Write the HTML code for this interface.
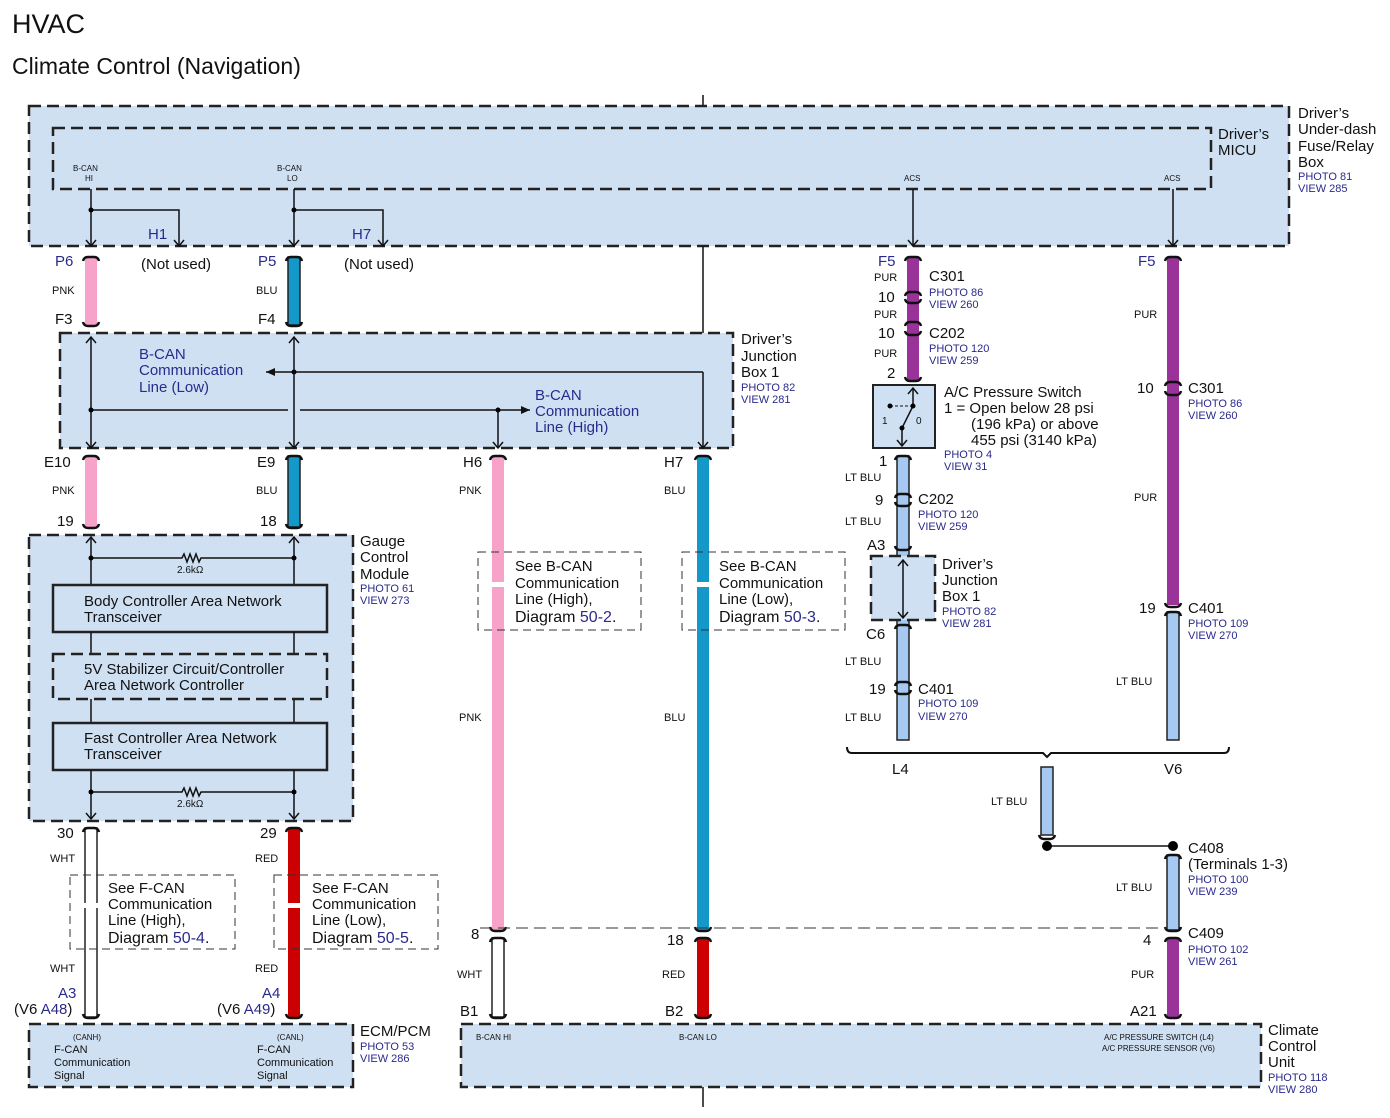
<!DOCTYPE html>
<html><head><meta charset="utf-8"><style>
html,body{margin:0;padding:0;background:#fff}
svg{display:block}
text{font-family:"Liberation Sans",sans-serif;fill:#111}
.b{fill:#2a2a8c}
.s{font-size:11px}
.m{font-size:15px}
.xs{font-size:8px}
.box{fill:#cfe0f3;stroke:#222;stroke-width:2.5;stroke-dasharray:12 6}
.ibox{fill:none;stroke:#222;stroke-width:2.5;stroke-dasharray:12 6}
.sbox{fill:#cfe0f3;stroke:#222;stroke-width:2.5}
.note{fill:none;stroke:#333;stroke-width:1;stroke-dasharray:8 5}
.ln{stroke:#111;stroke-width:1.5;fill:none}
.w{stroke:#222;stroke-width:1.5}
.cap{stroke:#111;stroke-width:2.5;fill:none}
</style></head><body>
<svg width="1390" height="1118" viewBox="0 0 1390 1118" xmlns="http://www.w3.org/2000/svg">
<defs>
<marker id="ar" markerWidth="12" markerHeight="14" refX="10" refY="6" orient="auto-start-reverse" markerUnits="userSpaceOnUse">
<path d="M4 1 L10 6 L4 11" fill="none" stroke="#111" stroke-width="1.5"/></marker>
<marker id="af" markerWidth="10" markerHeight="10" refX="9" refY="5" orient="auto" markerUnits="userSpaceOnUse">
<path d="M0 1 L9 5 L0 9z" fill="#111"/></marker>
</defs>
<text x="12" y="33" style="font-size:27px">HVAC</text>
<text x="12" y="74" style="font-size:23px">Climate Control (Navigation)</text>

<!-- top box -->
<line x1="703" y1="95" x2="703" y2="106" class="ln"/>
<rect x="29" y="106" width="1260" height="140" class="box"/>
<rect x="53" y="128" width="1158" height="61" class="ibox"/>
<text x="1298" y="118" class="m">Driver’s</text>
<text x="1298" y="134" class="m">Under-dash</text>
<text x="1298" y="151" class="m">Fuse/Relay</text>
<text x="1298" y="167" class="m">Box</text>
<text x="1298" y="180" class="s b">PHOTO 81</text>
<text x="1298" y="192" class="s b">VIEW 285</text>
<text x="1218" y="139" class="m">Driver’s</text>
<text x="1218" y="155" class="m">MICU</text>
<text x="73" y="171" class="xs">B-CAN</text><text x="85" y="181" class="xs">HI</text>
<text x="277" y="171" class="xs">B-CAN</text><text x="287" y="181" class="xs">LO</text>
<text x="904" y="181" class="xs">ACS</text><text x="1164" y="181" class="xs">ACS</text>
<path d="M91 189 V246" class="ln" marker-end="url(#ar)"/>
<path d="M91 210 H179 V246" class="ln" marker-end="url(#ar)"/>
<circle cx="91" cy="210" r="2.5"/>
<path d="M294 189 V246" class="ln" marker-end="url(#ar)"/>
<path d="M294 210 H383 V246" class="ln" marker-end="url(#ar)"/>
<circle cx="294" cy="210" r="2.5"/>
<path d="M913 189 V246" class="ln" marker-end="url(#ar)"/>
<path d="M1173 189 V246" class="ln" marker-end="url(#ar)"/>
<text x="148" y="239" class="m b">H1</text><text x="352" y="239" class="m b">H7</text>
<text x="141" y="269" class="m">(Not used)</text><text x="344" y="269" class="m">(Not used)</text>
<line x1="703" y1="246" x2="703" y2="333" class="ln"/>

<!-- wires -->
<rect x="85" y="257" width="12" height="68" fill="#f7a3c9"/>
<rect x="288" y="257" width="12" height="68" fill="#1497c9" class="w"/>
<rect x="85" y="456" width="12" height="71" fill="#f7a3c9"/>
<rect x="288" y="456" width="12" height="71" fill="#1497c9" class="w"/>
<rect x="492" y="456" width="12" height="474" fill="#f7a3c9"/>
<rect x="697" y="456" width="12" height="474" fill="#1497c9"/>
<rect x="85" y="828" width="12" height="189" fill="#fff" class="w"/>
<rect x="288" y="828" width="12" height="189" fill="#cc0000"/>
<rect x="492" y="938" width="12" height="79" fill="#fff" class="w"/>
<rect x="697" y="938" width="12" height="79" fill="#cc0000"/>
<rect x="907" y="257" width="12" height="123" fill="#993399"/>
<rect x="897" y="456" width="12" height="284" fill="#a6c9f1" class="w"/>
<rect x="1167" y="257" width="12" height="348" fill="#993399"/>
<rect x="1167" y="612" width="12" height="128" fill="#a6c9f1" class="w"/>
<rect x="1041" y="767" width="12" height="68" fill="#a6c9f1" class="w"/>
<rect x="1167" y="855" width="12" height="75" fill="#a6c9f1" class="w"/>
<rect x="1167" y="938" width="12" height="79" fill="#993399"/>

<!-- caps -->
<g class="cap">
<path d="M83 261 Q84 257 88 257 H94 Q98 257 99 261 M83 322 Q84 326 88 326 H94 Q98 326 99 322"/>
<path d="M286 261 Q287 257 291 257 H297 Q301 257 302 261 M286 322 Q287 326 291 326 H297 Q301 326 302 322"/>
<path d="M83 460 Q84 456 88 456 H94 Q98 456 99 460 M83 524 Q84 528 88 528 H94 Q98 528 99 524"/>
<path d="M286 460 Q287 456 291 456 H297 Q301 456 302 460 M286 524 Q287 528 291 528 H297 Q301 528 302 524"/>
<path d="M490 460 Q491 456 495 456 H501 Q505 456 506 460 M490 927 Q491 931 495 931 H501 Q505 931 506 927"/>
<path d="M695 460 Q696 456 700 456 H706 Q710 456 711 460 M695 927 Q696 931 700 931 H706 Q710 931 711 927"/>
<path d="M83 832 Q84 828 88 828 H94 Q98 828 99 832 M83 1014 Q84 1018 88 1018 H94 Q98 1018 99 1014"/>
<path d="M286 832 Q287 828 291 828 H297 Q301 828 302 832 M286 1014 Q287 1018 291 1018 H297 Q301 1018 302 1014"/>
<path d="M490 942 Q491 938 495 938 H501 Q505 938 506 942 M490 1014 Q491 1018 495 1018 H501 Q505 1018 506 1014"/>
<path d="M695 942 Q696 938 700 938 H706 Q710 938 711 942 M695 1014 Q696 1018 700 1018 H706 Q710 1018 711 1014"/>
<path d="M905 261 Q906 257 910 257 H916 Q920 257 921 261"/>
<path d="M905 296 Q906 292 910 292 H916 Q920 292 921 296 M905 299 Q906 303 910 303 H916 Q920 303 921 299"/>
<path d="M905 326 Q906 322 910 322 H916 Q920 322 921 326 M905 331 Q906 335 910 335 H916 Q920 335 921 331"/>
<path d="M905 377 Q906 381 910 381 H916 Q920 381 921 377"/>
<path d="M895 460 Q896 456 900 456 H906 Q910 456 911 460"/>
<path d="M895 498 Q896 494 900 494 H906 Q910 494 911 498 M895 502 Q896 506 900 506 H906 Q910 506 911 502"/>
<path d="M895 546 Q896 550 900 550 H906 Q910 550 911 546 M895 629 Q896 625 900 625 H906 Q910 625 911 629"/>
<path d="M895 686 Q896 682 900 682 H906 Q910 682 911 686 M895 690 Q896 694 900 694 H906 Q910 694 911 690"/>
<path d="M1165 261 Q1166 257 1170 257 H1176 Q1180 257 1181 261"/>
<path d="M1165 386 Q1166 382 1170 382 H1176 Q1180 382 1181 386 M1165 391 Q1166 395 1170 395 H1176 Q1180 395 1181 391"/>
<path d="M1165 603 Q1166 607 1170 607 H1176 Q1180 607 1181 603 M1165 616 Q1166 612 1170 612 H1176 Q1180 612 1181 616"/>
<path d="M1039 835 Q1040 839 1044 839 H1050 Q1054 839 1055 835"/>
<path d="M1165 859 Q1166 855 1170 855 H1176 Q1180 855 1181 859"/>
<path d="M1165 927 Q1166 931 1170 931 H1176 Q1180 931 1181 927 M1165 942 Q1166 938 1170 938 H1176 Q1180 938 1181 942"/>
<path d="M1165 1014 Q1166 1018 1170 1018 H1176 Q1180 1018 1181 1014"/>
</g>
<text x="55" y="266" class="m b">P6</text><text x="258" y="266" class="m b">P5</text>
<text x="52" y="294" class="s">PNK</text><text x="256" y="294" class="s">BLU</text>
<text x="55" y="324" class="m">F3</text><text x="258" y="324" class="m">F4</text>

<!-- junction box -->
<rect x="60" y="333" width="673" height="115" class="box"/>
<text x="741" y="344" class="m">Driver’s</text>
<text x="741" y="361" class="m">Junction</text>
<text x="741" y="377" class="m">Box 1</text>
<text x="741" y="391" class="s b">PHOTO 82</text>
<text x="741" y="403" class="s b">VIEW 281</text>
<path d="M91 337 V448" class="ln" marker-start="url(#ar)" marker-end="url(#ar)"/>
<path d="M703 372 V448" class="ln" marker-end="url(#ar)"/>
<path d="M703 372 H266" class="ln" marker-end="url(#af)"/>
<circle cx="294" cy="372" r="2.5"/>
<path d="M91 410 H530" class="ln" marker-end="url(#af)"/>
<circle cx="91" cy="410" r="2.5"/>
<path d="M498 410 V448" class="ln" marker-end="url(#ar)"/><circle cx="498" cy="410" r="2.5"/>
<rect x="288" y="405" width="12" height="10" fill="#cfe0f3"/>
<path d="M294 337 V448" class="ln" marker-start="url(#ar)" marker-end="url(#ar)"/>
<text x="139" y="359" class="m b">B-CAN</text>
<text x="139" y="375" class="m b">Communication</text>
<text x="139" y="392" class="m b">Line (Low)</text>
<text x="535" y="400" class="m b">B-CAN</text>
<text x="535" y="416" class="m b">Communication</text>
<text x="535" y="432" class="m b">Line (High)</text>

<text x="44" y="467" class="m">E10</text><text x="257" y="467" class="m">E9</text>
<text x="463" y="467" class="m">H6</text><text x="664" y="467" class="m">H7</text>
<text x="52" y="494" class="s">PNK</text><text x="256" y="494" class="s">BLU</text>
<text x="459" y="494" class="s">PNK</text><text x="664" y="494" class="s">BLU</text>
<text x="57" y="526" class="m">19</text><text x="260" y="526" class="m">18</text>

<!-- gauge -->
<rect x="29" y="535" width="324" height="286" class="box"/>
<text x="360" y="546" class="m">Gauge</text>
<text x="360" y="562" class="m">Control</text>
<text x="360" y="579" class="m">Module</text>
<text x="360" y="592" class="s b">PHOTO 61</text>
<text x="360" y="604" class="s b">VIEW 273</text>
<path d="M91 585 V537" class="ln" marker-end="url(#ar)"/>
<path d="M294 585 V537" class="ln" marker-end="url(#ar)"/>
<path d="M91 558 H182 l2 -4 l3 8 l3 -8 l3 8 l3 -8 l3 8 l2 -4 H294" class="ln"/>
<circle cx="91" cy="558" r="2.5"/><circle cx="294" cy="558" r="2.5"/>
<text x="177" y="573" style="font-size:10px">2.6kΩ</text>
<rect x="53" y="585" width="274" height="47" class="sbox"/>
<text x="84" y="606" class="m">Body Controller Area Network</text>
<text x="84" y="622" class="m">Transceiver</text>
<path d="M91 632 V654 M294 632 V654 M91 699 V723 M294 699 V723" class="ln"/>
<rect x="53" y="654" width="274" height="45" class="ibox"/>
<text x="84" y="674" class="m">5V Stabilizer Circuit/Controller</text>
<text x="84" y="690" class="m">Area Network Controller</text>
<rect x="53" y="723" width="274" height="47" class="sbox"/>
<text x="84" y="743" class="m">Fast Controller Area Network</text>
<text x="84" y="759" class="m">Transceiver</text>
<path d="M91 770 V819" class="ln" marker-end="url(#ar)"/>
<path d="M294 770 V819" class="ln" marker-end="url(#ar)"/>
<path d="M91 792 H182 l2 -4 l3 8 l3 -8 l3 8 l3 -8 l3 8 l2 -4 H294" class="ln"/>
<circle cx="91" cy="792" r="2.5"/><circle cx="294" cy="792" r="2.5"/>
<text x="177" y="807" style="font-size:10px">2.6kΩ</text>

<text x="57" y="838" class="m">30</text><text x="260" y="838" class="m">29</text>
<text x="50" y="862" class="s">WHT</text><text x="255" y="862" class="s">RED</text>

<!-- notes -->
<rect x="70" y="875" width="165" height="74" class="note"/>
<rect x="84" y="903" width="14" height="5" fill="#fff"/>
<text x="108" y="893" class="m">See F-CAN</text><text x="108" y="909" class="m">Communication</text>
<text x="108" y="925" class="m">Line (High),</text><text x="108" y="943" style="font-size:16px">Diagram <tspan class="b">50-4</tspan>.</text>
<rect x="274" y="875" width="164" height="74" class="note"/>
<rect x="288" y="903" width="12" height="5" fill="#fff"/>
<text x="312" y="893" class="m">See F-CAN</text><text x="312" y="909" class="m">Communication</text>
<text x="312" y="925" class="m">Line (Low),</text><text x="312" y="943" style="font-size:16px">Diagram <tspan class="b">50-5</tspan>.</text>
<rect x="478" y="552" width="163" height="78" class="note"/>
<rect x="492" y="582" width="12" height="5" fill="#fff"/>
<text x="515" y="571" class="m">See B-CAN</text><text x="515" y="588" class="m">Communication</text>
<text x="515" y="604" class="m">Line (High),</text><text x="515" y="622" style="font-size:16px">Diagram <tspan class="b">50-2</tspan>.</text>
<rect x="682" y="552" width="163" height="78" class="note"/>
<rect x="697" y="582" width="12" height="5" fill="#fff"/>
<text x="719" y="571" class="m">See B-CAN</text><text x="719" y="588" class="m">Communication</text>
<text x="719" y="604" class="m">Line (Low),</text><text x="719" y="622" style="font-size:16px">Diagram <tspan class="b">50-3</tspan>.</text>

<text x="459" y="721" class="s">PNK</text><text x="664" y="721" class="s">BLU</text>

<text x="50" y="972" class="s">WHT</text><text x="255" y="972" class="s">RED</text>
<text x="58" y="998" class="m b">A3</text><text x="262" y="998" class="m b">A4</text>
<text x="14" y="1014" class="m">(V6 <tspan class="b">A48</tspan>)</text>
<text x="217" y="1014" class="m">(V6 <tspan class="b">A49</tspan>)</text>

<!-- ECM -->
<rect x="29" y="1024" width="324" height="63" class="box"/>
<text x="73" y="1040" class="xs">(CANH)</text><text x="277" y="1040" class="xs">(CANL)</text>
<text x="54" y="1053" class="s">F-CAN</text><text x="54" y="1066" class="s">Communication</text><text x="54" y="1079" class="s">Signal</text>
<text x="257" y="1053" class="s">F-CAN</text><text x="257" y="1066" class="s">Communication</text><text x="257" y="1079" class="s">Signal</text>
<text x="360" y="1036" class="m">ECM/PCM</text>
<text x="360" y="1050" class="s b">PHOTO 53</text>
<text x="360" y="1062" class="s b">VIEW 286</text>

<!-- bottom dashed -->
<path d="M480 928 H1167" stroke="#333" stroke-width="1" stroke-dasharray="12 6"/>
<text x="471" y="939" class="m">8</text><text x="667" y="945" class="m">18</text>
<text x="457" y="978" class="s">WHT</text><text x="662" y="978" class="s">RED</text>
<text x="460" y="1016" class="m">B1</text><text x="665" y="1016" class="m">B2</text>
<rect x="461" y="1024" width="800" height="63" class="box"/>
<line x1="703" y1="1087" x2="703" y2="1107" class="ln"/>
<text x="476" y="1040" class="xs">B-CAN HI</text><text x="679" y="1040" class="xs">B-CAN LO</text>
<text x="1104" y="1040" class="xs">A/C PRESSURE SWITCH (L4)</text>
<text x="1102" y="1051" class="xs">A/C PRESSURE SENSOR (V6)</text>
<text x="1268" y="1035" class="m">Climate</text>
<text x="1268" y="1051" class="m">Control</text>
<text x="1268" y="1067" class="m">Unit</text>
<text x="1268" y="1081" class="s b">PHOTO 118</text>
<text x="1268" y="1093" class="s b">VIEW 280</text>

<!-- right L4 -->
<text x="878" y="266" class="m b">F5</text>
<text x="874" y="281" class="s">PUR</text>
<text x="929" y="281" class="m">C301</text>
<text x="929" y="296" class="s b">PHOTO 86</text><text x="929" y="308" class="s b">VIEW 260</text>
<text x="878" y="302" class="m">10</text>
<text x="874" y="318" class="s">PUR</text>
<text x="878" y="338" class="m">10</text>
<text x="929" y="338" class="m">C202</text>
<text x="929" y="352" class="s b">PHOTO 120</text><text x="929" y="364" class="s b">VIEW 259</text>
<text x="874" y="357" class="s">PUR</text>
<text x="887" y="378" class="m">2</text>
<rect x="873" y="385" width="62" height="63" class="sbox" style="stroke-width:2"/>
<path d="M913 406 V388" class="ln" marker-end="url(#ar)"/>
<path d="M902 428 V446" class="ln" marker-end="url(#ar)"/>
<path d="M890 406 H913" stroke="#111" stroke-width="1" stroke-dasharray="3 2"/>
<line x1="902" y1="428" x2="913" y2="406" class="ln"/>
<circle cx="890" cy="406" r="2.5"/><circle cx="913" cy="406" r="2.5"/><circle cx="902" cy="428" r="2.5"/>
<text x="882" y="424" style="font-size:10px">1</text><text x="916" y="424" style="font-size:10px">0</text>
<text x="944" y="397" class="m">A/C Pressure Switch</text>
<text x="944" y="413" class="m">1 = Open below 28 psi</text>
<text x="971" y="429" class="m">(196 kPa) or above</text>
<text x="971" y="445" class="m">455 psi (3140 kPa)</text>
<text x="944" y="458" class="s b">PHOTO 4</text><text x="944" y="470" class="s b">VIEW 31</text>
<text x="879" y="466" class="m">1</text>
<text x="845" y="481" class="s">LT BLU</text>
<text x="875" y="505" class="m">9</text>
<text x="918" y="504" class="m">C202</text>
<text x="918" y="518" class="s b">PHOTO 120</text><text x="918" y="530" class="s b">VIEW 259</text>
<text x="845" y="525" class="s">LT BLU</text>
<text x="867" y="550" class="m">A3</text>
<rect x="871" y="556" width="64" height="64" class="box"/>
<path d="M903 560 V618" class="ln" marker-start="url(#ar)" marker-end="url(#ar)"/>
<text x="942" y="569" class="m">Driver’s</text><text x="942" y="585" class="m">Junction</text><text x="942" y="601" class="m">Box 1</text>
<text x="942" y="615" class="s b">PHOTO 82</text><text x="942" y="627" class="s b">VIEW 281</text>
<text x="866" y="639" class="m">C6</text>
<text x="845" y="665" class="s">LT BLU</text>
<text x="869" y="694" class="m">19</text>
<text x="918" y="694" class="m">C401</text>
<text x="918" y="707" class="s b">PHOTO 109</text><text x="918" y="720" class="s b">VIEW 270</text>
<text x="845" y="721" class="s">LT BLU</text>

<!-- right V6 -->
<text x="1138" y="266" class="m b">F5</text>
<text x="1134" y="318" class="s">PUR</text>
<text x="1137" y="393" class="m">10</text>
<text x="1188" y="393" class="m">C301</text>
<text x="1188" y="407" class="s b">PHOTO 86</text><text x="1188" y="419" class="s b">VIEW 260</text>
<text x="1134" y="501" class="s">PUR</text>
<text x="1139" y="613" class="m">19</text>
<text x="1188" y="613" class="m">C401</text>
<text x="1188" y="627" class="s b">PHOTO 109</text><text x="1188" y="639" class="s b">VIEW 270</text>
<text x="1116" y="685" class="s">LT BLU</text>

<path d="M847 747 Q847 753 852 753 H1043 L1047 757 L1051 753 H1224 Q1229 753 1229 747" class="ln" style="stroke-width:2"/>
<text x="892" y="774" class="m">L4</text><text x="1164" y="774" class="m">V6</text>
<text x="991" y="805" class="s">LT BLU</text>
<line x1="1047" y1="846" x2="1173" y2="846" class="ln"/>
<circle cx="1047" cy="846" r="5"/><circle cx="1173" cy="846" r="5"/>
<text x="1188" y="853" class="m">C408</text>
<text x="1188" y="869" class="m">(Terminals 1-3)</text>
<text x="1188" y="883" class="s b">PHOTO 100</text><text x="1188" y="895" class="s b">VIEW 239</text>
<text x="1116" y="891" class="s">LT BLU</text>
<text x="1143" y="945" class="m">4</text>
<text x="1188" y="938" class="m">C409</text>
<text x="1188" y="953" class="s b">PHOTO 102</text><text x="1188" y="965" class="s b">VIEW 261</text>
<text x="1131" y="978" class="s">PUR</text>
<text x="1130" y="1016" class="m">A21</text>
</svg>
</body></html>
